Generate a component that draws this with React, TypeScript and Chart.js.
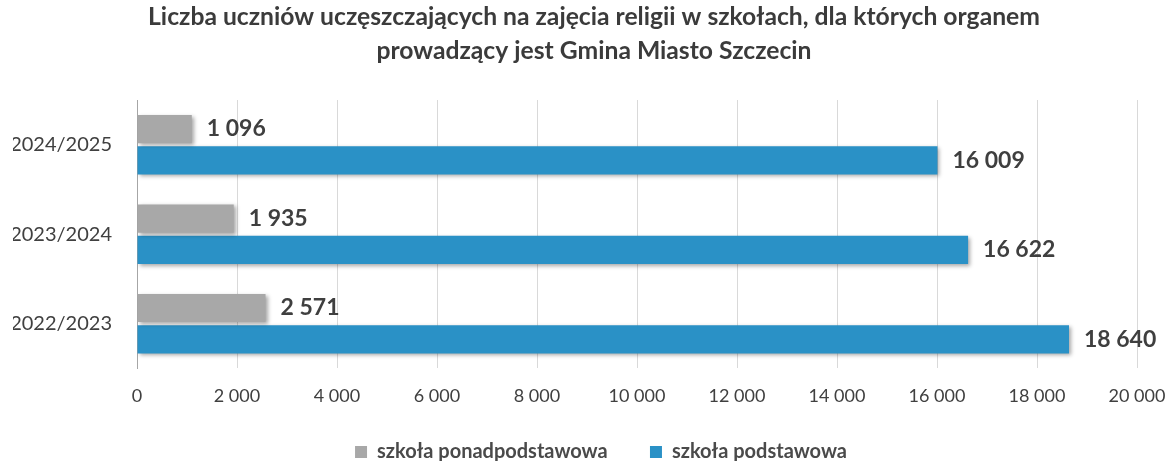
import React, { useEffect, useRef } from "react";
import { Chart, registerables } from "chart.js";

Chart.register(...registerables);

const categories = ["2024/2025", "2023/2024", "2022/2023"];
const ponadpodstawowa = [1096, 1935, 2571];
const podstawowa = [16009, 16622, 18640];
const seriesNames = ["szkoła ponadpodstawowa", "szkoła podstawowa"];
const titleLines = [
  "Liczba uczniów uczęszczających na zajęcia religii w szkołach, dla których organem",
  "prowadzący jest Gmina Miasto Szczecin",
];

const fmt = (v: number) =>
  String(Math.round(v)).replace(/\B(?=(\d{3})+(?!\d))/g, " ");

const FONT = "Lato, 'Open Sans', sans-serif";

const shadowPlugin = {
  id: "barShadow",
  beforeDatasetDraw(chart: any) {
    const ctx = chart.ctx;
    ctx.save();
    ctx.shadowColor = "rgba(0,0,0,0.35)";
    ctx.shadowBlur = 4;
    ctx.shadowOffsetX = 2;
    ctx.shadowOffsetY = 2;
  },
  afterDatasetDraw(chart: any) {
    chart.ctx.restore();
  },
};

const labelPlugin = {
  id: "valueLabels",
  afterDatasetsDraw(chart: any) {
    const ctx = chart.ctx;
    ctx.save();
    ctx.font = `bold 23px ${FONT}`;
    ctx.fillStyle = "#3f3f3f";
    ctx.textAlign = "left";
    ctx.textBaseline = "middle";
    chart.data.datasets.forEach((ds: any, i: number) => {
      const meta = chart.getDatasetMeta(i);
      meta.data.forEach((bar: any, j: number) => {
        ctx.fillText(fmt(ds.data[j]), bar.x + 15, bar.y);
      });
    });
    ctx.restore();
  },
};

const legendShiftPlugin = {
  id: "legendShift",
  afterLayout(chart: any) {
    if (chart.legend) {
      chart.legend.left += 7;
      chart.legend.right += 7;
    }
  },
};

export default function App() {
  const ref = useRef<HTMLCanvasElement>(null);
  useEffect(() => {
    if (!ref.current) return;
    const chart = new Chart(ref.current, {
      type: "bar",
      data: {
        labels: categories,
        datasets: [
          {
            label: seriesNames[0],
            data: ponadpodstawowa,
            backgroundColor: "#a8a8a8",
            barPercentage: 0.9,
            categoryPercentage: 0.7,
          },
          {
            label: seriesNames[1],
            data: podstawowa,
            backgroundColor: "#2a91c6",
            barPercentage: 0.9,
            categoryPercentage: 0.7,
          },
        ],
      },
      options: {
        indexAxis: "y",
        animation: false,
        responsive: true,
        maintainAspectRatio: false,
        layout: { padding: { left: 13, right: 0, top: 0, bottom: 0 } },
        scales: {
          x: {
            min: 0,
            max: 20000,
            ticks: {
              stepSize: 2000,
              callback: (v: any) => fmt(Number(v)),
              color: "#404040",
              font: { family: FONT, size: 18 },
              padding: 17,
            },
            grid: { color: "#d9d9d9", drawTicks: false },
            border: { display: false },
            afterFit: (scale: any) => {
              scale.paddingRight = 38;
              scale.paddingLeft = 0;
            },
          },
          y: {
            ticks: {
              color: "#404040",
              font: { family: FONT, size: 20 },
              padding: 17,
            },
            grid: { display: false },
            border: { display: true, color: "#a6a6a6" },
            afterFit: (scale: any) => {
              scale.width = 124;
            },
          },
        },
        plugins: {
          title: {
            display: true,
            text: titleLines,
            color: "#3b3b3b",
            font: { family: FONT, size: 24.7, weight: "bold", lineHeight: 34 / 24.7 },
            padding: { top: 0, bottom: 32 },
          },
          legend: {
            position: "bottom",
            labels: {
              boxWidth: 12,
              boxHeight: 12,
              color: "#4a4a4a",
              font: { family: FONT, size: 20, weight: "bold" },
              padding: 18,
              generateLabels: (chart: any) => {
                const items = Chart.defaults.plugins.legend.labels.generateLabels(chart);
                return items.map((it: any, i: number) =>
                  i < items.length - 1 ? { ...it, text: it.text + "     " } : it
                );
              },
            },
          },
          tooltip: { enabled: false },
        },
      },
      plugins: [shadowPlugin, labelPlugin, legendShiftPlugin],
    });
    return () => chart.destroy();
  }, []);
  return (
    <div style={{ position: "fixed", left: 0, top: 0, width: 1175, height: 472, background: "#fff" }}>
      <canvas ref={ref} />
    </div>
  );
}
